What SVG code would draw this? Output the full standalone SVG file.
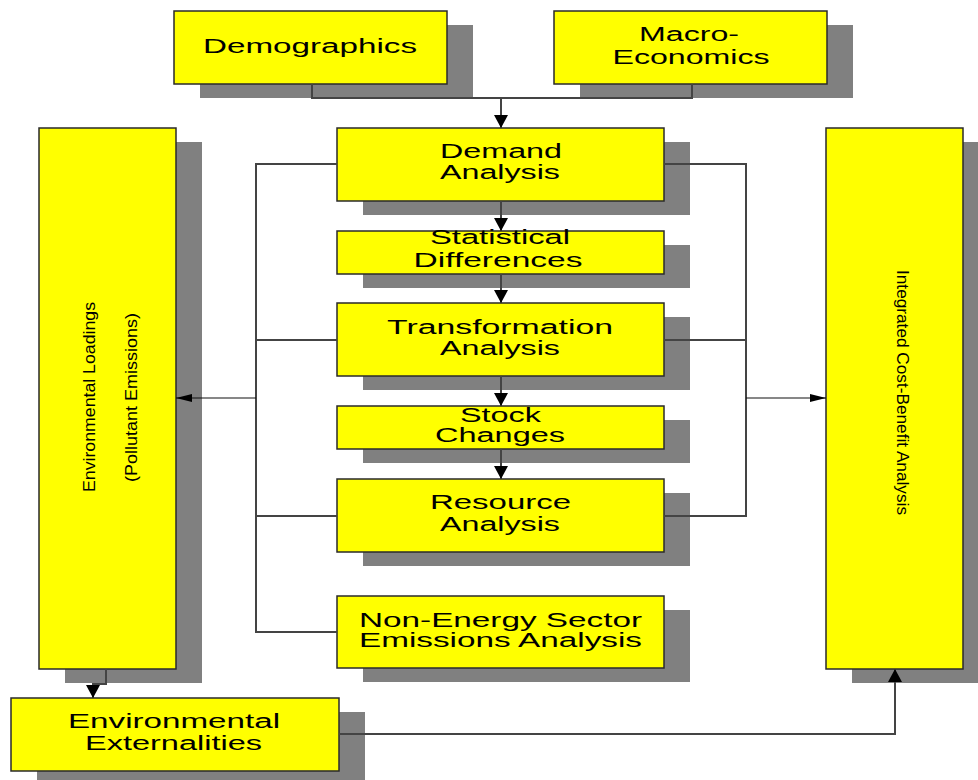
<svg xmlns="http://www.w3.org/2000/svg" width="978" height="780" viewBox="0 0 978 780">
<defs>
<style>
.sh{fill:#808080}
.bx{fill:#ffff00;stroke:#2a2a2a;stroke-width:1.5}
.t{font-family:"Liberation Sans",Arial,sans-serif;font-size:20px;fill:#000;text-anchor:middle}
.tv{font-family:"Liberation Sans",Arial,sans-serif;font-size:16px;fill:#000;text-anchor:middle}
.ln{fill:none;stroke:#444;stroke-width:2}
.ar{fill:none;stroke:#111;stroke-width:1.2}
</style>
<marker id="ah" markerUnits="userSpaceOnUse" markerWidth="16" markerHeight="14" refX="13" refY="7" orient="auto">
<path d="M0,0 L13,7 L0,14 Z" fill="#000"/>
</marker>
<marker id="ahs" markerUnits="userSpaceOnUse" markerWidth="18" markerHeight="10" refX="16" refY="5" orient="auto">
<path d="M0,1 L16,5 L0,9 Z" fill="#000"/>
</marker>
</defs>
<rect width="978" height="780" fill="#fff"/>

<g id="demographics">
<rect class="sh" x="200" y="25" width="273" height="73"/>
<rect class="bx" x="174" y="11" width="273" height="73"/>
<text class="t" x="310" y="53" textLength="214" lengthAdjust="spacingAndGlyphs">Demographics</text>
</g>
<g id="macro-economics">
<rect class="sh" x="580" y="25" width="273" height="73"/>
<rect class="bx" x="554" y="11" width="273" height="73"/>
<text class="t" x="689" y="41" textLength="100" lengthAdjust="spacingAndGlyphs">Macro-</text>
<text class="t" x="691" y="64" textLength="157" lengthAdjust="spacingAndGlyphs">Economics</text>
</g>
<g id="demand-analysis">
<rect class="sh" x="363" y="142" width="327" height="73"/>
<rect class="bx" x="337" y="128" width="327" height="73"/>
<text class="t" x="501" y="158" textLength="122" lengthAdjust="spacingAndGlyphs">Demand</text>
<text class="t" x="500" y="179" textLength="120" lengthAdjust="spacingAndGlyphs">Analysis</text>
</g>
<g id="statistical-differences">
<rect class="sh" x="363" y="245" width="327" height="43"/>
<rect class="bx" x="337" y="231" width="327" height="43"/>
<text class="t" x="500" y="244" textLength="140" lengthAdjust="spacingAndGlyphs">Statistical</text>
<text class="t" x="498" y="267" textLength="169" lengthAdjust="spacingAndGlyphs">Differences</text>
</g>
<g id="transformation-analysis">
<rect class="sh" x="363" y="317" width="327" height="73"/>
<rect class="bx" x="337" y="303" width="327" height="73"/>
<text class="t" x="500" y="334" textLength="226" lengthAdjust="spacingAndGlyphs">Transformation</text>
<text class="t" x="500" y="355" textLength="120" lengthAdjust="spacingAndGlyphs">Analysis</text>
</g>
<g id="stock-changes">
<rect class="sh" x="363" y="420" width="327" height="43"/>
<rect class="bx" x="337" y="406" width="327" height="43"/>
<text class="t" x="500.5" y="422" textLength="81" lengthAdjust="spacingAndGlyphs">Stock</text>
<text class="t" x="500" y="442" textLength="130" lengthAdjust="spacingAndGlyphs">Changes</text>
</g>
<g id="resource-analysis">
<rect class="sh" x="363" y="493" width="327" height="73"/>
<rect class="bx" x="337" y="479" width="327" height="73"/>
<text class="t" x="500.5" y="509" textLength="141" lengthAdjust="spacingAndGlyphs">Resource</text>
<text class="t" x="500" y="531" textLength="120" lengthAdjust="spacingAndGlyphs">Analysis</text>
</g>
<g id="non-energy-sector">
<rect class="sh" x="363" y="610" width="327" height="72"/>
<rect class="bx" x="337" y="596" width="327" height="72"/>
<text class="t" x="500.5" y="627" textLength="283" lengthAdjust="spacingAndGlyphs">Non-Energy Sector</text>
<text class="t" x="500.5" y="647" textLength="283" lengthAdjust="spacingAndGlyphs">Emissions Analysis</text>
</g>
<g id="environmental-loadings">
<rect class="sh" x="65" y="142" width="137" height="541"/>
<rect class="bx" x="39" y="128" width="137" height="541"/>
<text class="tv" transform="translate(95,397) rotate(-90)" textLength="190" lengthAdjust="spacingAndGlyphs">Environmental Loadings</text>
<text class="tv" transform="translate(137,397.5) rotate(-90)" textLength="169" lengthAdjust="spacingAndGlyphs">(Pollutant Emissions)</text>
</g>
<g id="integrated-cost-benefit">
<rect class="sh" x="852" y="142" width="137" height="541"/>
<rect class="bx" x="826" y="128" width="137" height="541"/>
<text class="tv" transform="translate(897,392.5) rotate(90)" textLength="245" lengthAdjust="spacingAndGlyphs">Integrated Cost-Benefit Analysis</text>
</g>
<g id="environmental-externalities">
<rect class="sh" x="37" y="712" width="328" height="73"/>
<rect class="bx" x="11" y="698" width="328" height="73"/>
<text class="t" x="174" y="728" textLength="212" lengthAdjust="spacingAndGlyphs">Environmental</text>
<text class="t" x="173.5" y="750" textLength="177" lengthAdjust="spacingAndGlyphs">Externalities</text>
</g>

<g id="connectors">
<path class="ln" d="M312,84 V98 H692 V84"/>
<path class="ln" d="M501,98 V128" marker-end="url(#ah)"/>
<path class="ln" d="M501,201 V231" marker-end="url(#ah)"/>
<path class="ln" d="M501,274 V303" marker-end="url(#ah)"/>
<path class="ln" d="M501,376 V406" marker-end="url(#ah)"/>
<path class="ln" d="M501,449 V479" marker-end="url(#ah)"/>
<path class="ln" d="M337,164 H256 V632 H337"/>
<path class="ln" d="M256,340 H337"/>
<path class="ln" d="M256,516 H337"/>
<path class="ar" d="M256,398 H176" marker-end="url(#ahs)"/>
<path class="ln" d="M664,164 H746 V516 H664"/>
<path class="ln" d="M664,340 H746"/>
<path class="ar" d="M746,398 H826" marker-end="url(#ahs)"/>
<path class="ln" d="M106,669 V684 H93 V698" marker-end="url(#ah)"/>
<path class="ln" d="M339,734 H895 V669" marker-end="url(#ah)"/>
</g>
</svg>
